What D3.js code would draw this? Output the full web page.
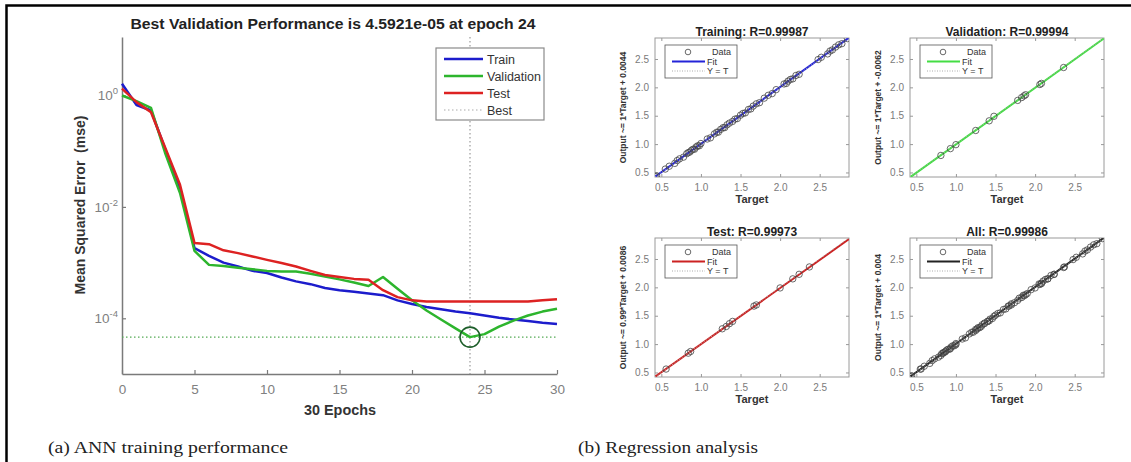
<!DOCTYPE html>
<html>
<head>
<meta charset="utf-8">
<script src="https://cdn.jsdelivr.net/npm/d3@7"></script>
<style>
body { margin: 0; background: #fff; }
svg { display: block; font-family: "Liberation Sans", Arial, sans-serif; }
</style>
</head>
<body>
<svg id="fig" width="1131" height="462"></svg>
<script>
// ---- (a) training performance data, one value per epoch 0..30
var epochs = d3.range(0, 31);
var trainMse = [1.62, 0.676, 0.537, 0.105, 0.0209, 1.82e-3, 1.32e-3, 1.0e-3, 8.5e-4, 7.1e-4, 6.5e-4,
                5.4e-4, 4.6e-4, 4.1e-4, 3.5e-4, 3.2e-4, 3.0e-4, 2.8e-4, 2.6e-4, 2.1e-4, 1.8e-4,
                1.6e-4, 1.45e-4, 1.32e-4, 1.23e-4, 1.12e-4, 1.02e-4, 9.5e-5, 8.9e-5, 8.3e-5, 7.9e-5];
var valMse = [1.0, 0.79, 0.60, 0.089, 0.0178, 1.62e-3, 9.1e-4, 8.7e-4, 8.1e-4, 7.6e-4, 7.1e-4,
              6.9e-4, 6.9e-4, 6.3e-4, 5.6e-4, 5.0e-4, 4.4e-4, 3.8e-4, 5.5e-4, 3.4e-4, 2.1e-4,
              1.38e-4, 9.5e-5, 6.6e-5, 4.5921e-5, 5.2e-5, 7.1e-5, 9.1e-5, 1.12e-4, 1.32e-4, 1.48e-4];
var testMse = [1.33, 0.76, 0.50, 0.112, 0.025, 2.24e-3, 2.14e-3, 1.66e-3, 1.48e-3, 1.29e-3, 1.12e-3,
               9.8e-4, 8.5e-4, 7.1e-4, 6.0e-4, 5.5e-4, 5.1e-4, 4.9e-4, 3.2e-4, 2.4e-4, 2.1e-4,
               2.0e-4, 2.0e-4, 2.0e-4, 2.0e-4, 2.0e-4, 2.0e-4, 2.0e-4, 2.0e-4, 2.1e-4, 2.2e-4];
var bestEpoch = 24;
var bestValue = 4.5921e-5;
var epochTicks = [0, 5, 10, 15, 20, 25, 30];
var mseTicks = [1e0, 1e-2, 1e-4];
var mseTickExp = ["0", "-2", "-4"];
var legendNames = ["Train", "Validation", "Test", "Best"];

// ---- (b) regression data
var trainTarget = [0.42,0.44,0.55,0.60,0.67,0.70,0.73,0.78,0.82,0.84,0.86,0.88,0.90,0.92,0.94,0.96,0.98,1.00,
                   1.08,1.12,1.17,1.20,1.22,1.25,1.28,1.30,1.33,1.36,1.40,1.43,1.46,1.50,1.53,1.56,1.60,1.63,
                   1.66,1.70,1.74,1.80,1.85,1.90,1.95,2.05,2.08,2.10,2.13,2.16,2.20,2.24,2.48,2.52,2.60,2.63,
                   2.66,2.70,2.74,2.78,2.85];
var trainOutput = [0.43,0.44,0.56,0.61,0.66,0.71,0.74,0.77,0.83,0.85,0.86,0.89,0.91,0.91,0.95,0.97,0.97,1.01,
                   1.09,1.11,1.18,1.21,1.21,1.26,1.29,1.29,1.34,1.37,1.40,1.44,1.45,1.51,1.54,1.55,1.61,1.62,
                   1.67,1.71,1.73,1.81,1.86,1.89,1.96,2.06,2.07,2.11,2.14,2.15,2.21,2.23,2.49,2.53,2.59,2.64,
                   2.66,2.71,2.75,2.77,2.86];
var valTarget = [0.81,0.93,1.00,1.25,1.42,1.48,1.78,1.83,1.86,1.88,2.06,2.08,2.36];
var valOutput = [0.80,0.92,0.99,1.24,1.41,1.49,1.77,1.82,1.85,1.87,2.05,2.07,2.35];
var testTarget = [0.56,0.84,0.87,1.27,1.32,1.36,1.40,1.67,1.70,2.00,2.16,2.24,2.37];
var testOutput = [0.56,0.84,0.87,1.27,1.31,1.36,1.40,1.67,1.69,1.99,2.15,2.23,2.36];
var panelNames = ["Training", "Validation", "Test", "All"];
var panelR = ["0.99987", "0.99994", "0.99973", "0.99986"];
var fitSlope = [1, 1, 0.99, 1];
var fitIntercept = [0.0044, -0.0062, 0.0086, 0.004];
var fitLabel = ["1*Target + 0.0044", "1*Target + -0.0062", "0.99*Target + 0.0086", "1*Target + 0.004"];
var regTicks = [0.5, 1, 1.5, 2, 2.5];
var regDomain = [0.42, 2.87];

var lineColors = ["#1c1ccc", "#2db52d", "#dd2222"];
var fitColors = ["#2424d8", "#44dd44", "#cc2222", "#222222"];

var svg = d3.select("#fig");

// page frame (top and left edges)
svg.append("path")
    .attr("d", "M6.5,462V5.5H1131")
    .attr("fill", "none")
    .attr("stroke", "#000")
    .attr("stroke-width", 2.5);

// ================= (a) performance plot =================
var x = d3.scaleLinear().domain([0, 30]).range([122, 557]);
var y = d3.scaleLog().domain([1e-5, Math.pow(10, 1.05)]).range([374, 37]);

var perf = svg.append("g");

var xAxis = perf.append("g")
    .attr("transform", "translate(0,374)")
    .call(d3.axisBottom(x).tickValues(epochTicks).tickSize(-4).tickSizeOuter(0).tickPadding(10));
var yAxis = perf.append("g")
    .attr("transform", "translate(122,0)")
    .call(d3.axisLeft(y).tickValues(mseTicks).tickSize(-4).tickSizeOuter(0).tickFormat(""));
[xAxis, yAxis].forEach(function(a) {
    a.select(".domain").attr("stroke", "#7a7a7a").attr("stroke-width", 1.5);
    a.selectAll(".tick line").attr("stroke", "#7a7a7a").attr("stroke-width", 1.2);
});
xAxis.selectAll(".tick text").attr("fill", "#808080").style("font-size", "13.5px");

// log tick labels 10^n
mseTicks.forEach(function(v, i) {
    var t = perf.append("text")
        .attr("x", 118)
        .attr("y", y(v) + 5)
        .attr("text-anchor", "end")
        .attr("fill", "#808080")
        .style("font-size", "13.5px");
    t.append("tspan").text("10");
    t.append("tspan").attr("dy", -6).style("font-size", "9.5px").text(mseTickExp[i]);
});

// best markers
perf.append("line")
    .attr("x1", x(0)).attr("x2", x(30))
    .attr("y1", y(bestValue)).attr("y2", y(bestValue))
    .attr("stroke", "#55aa55").attr("stroke-width", 1.2).attr("stroke-dasharray", "1.5,2.5");
perf.append("line")
    .attr("x1", x(bestEpoch)).attr("x2", x(bestEpoch))
    .attr("y1", 37).attr("y2", 374)
    .attr("stroke", "#999").attr("stroke-width", 1.2).attr("stroke-dasharray", "1.5,2.5");

var line = d3.line()
    .x(function(d, i) { return x(epochs[i]); })
    .y(function(d) { return y(d); });

[trainMse, valMse, testMse].forEach(function(s, i) {
    perf.append("path")
        .datum(s)
        .attr("fill", "none")
        .attr("stroke", lineColors[i])
        .attr("stroke-width", 2.5)
        .attr("stroke-linejoin", "round")
        .attr("d", line);
});

perf.append("circle")
    .attr("cx", x(bestEpoch))
    .attr("cy", y(bestValue))
    .attr("r", 10)
    .attr("fill", "none")
    .attr("stroke", "#1d5e2a")
    .attr("stroke-width", 1.6);

// title and axis labels
perf.append("text")
    .attr("x", 333).attr("y", 29)
    .attr("text-anchor", "middle")
    .attr("textLength", 405).attr("lengthAdjust", "spacingAndGlyphs")
    .style("font-size", "14px").style("font-weight", "bold")
    .attr("fill", "#222")
    .text("Best Validation Performance is 4.5921e-05 at epoch 24");
perf.append("text")
    .attr("x", 340).attr("y", 415)
    .attr("text-anchor", "middle")
    .attr("textLength", 72).attr("lengthAdjust", "spacingAndGlyphs")
    .style("font-size", "14px").style("font-weight", "bold")
    .attr("fill", "#333")
    .text("30 Epochs");
perf.append("text")
    .attr("transform", "translate(85,205) rotate(-90)")
    .attr("text-anchor", "middle")
    .style("font-size", "14px").style("font-weight", "bold").style("white-space", "pre")
    .attr("fill", "#333")
    .text("Mean Squared Error  (mse)");

// legend
var leg = perf.append("g").attr("transform", "translate(436,48)");
leg.append("rect")
    .attr("width", 108).attr("height", 72)
    .attr("fill", "#fff").attr("stroke", "#8a8a8a").attr("stroke-width", 1.2);
legendNames.forEach(function(name, i) {
    var ly = 11 + i * 17;
    leg.append("line")
        .attr("x1", 8).attr("x2", 47).attr("y1", ly).attr("y2", ly)
        .attr("stroke", i < 3 ? lineColors[i] : "#aaa")
        .attr("stroke-width", i < 3 ? 2.5 : 1.2)
        .attr("stroke-dasharray", i < 3 ? null : "1.5,2.5");
    leg.append("text")
        .attr("x", 51).attr("y", ly + 4.5)
        .style("font-size", "12.5px")
        .attr("fill", "#333")
        .text(name);
});

// ================= (b) regression panels =================
var panelData = [
    { t: trainTarget, o: trainOutput },
    { t: valTarget, o: valOutput },
    { t: testTarget, o: testOutput },
    { t: trainTarget.concat(valTarget, testTarget), o: trainOutput.concat(valOutput, testOutput) }
];
var panelLeft = [655, 910, 655, 910];
var panelTop = [38, 38, 238, 238];
var pw = 194, ph = 139;

panelNames.forEach(function(name, k) {
    var l = panelLeft[k], t = panelTop[k];
    var xs = d3.scaleLinear().domain(regDomain).range([l, l + pw]);
    var ys = d3.scaleLinear().domain(regDomain).range([t + ph, t]);
    var g = svg.append("g");

    g.append("clipPath").attr("id", "clip" + k)
      .append("rect").attr("x", l).attr("y", t).attr("width", pw).attr("height", ph);

    g.append("rect")
        .attr("x", l).attr("y", t).attr("width", pw).attr("height", ph)
        .attr("fill", "#fff").attr("stroke", "#9a9a9a").attr("stroke-width", 1);

    var axB = g.append("g").attr("transform", "translate(0," + (t + ph) + ")")
        .call(d3.axisBottom(xs).tickValues(regTicks).tickSize(-3).tickSizeOuter(0).tickPadding(7));
    var axL = g.append("g").attr("transform", "translate(" + l + ",0)")
        .call(d3.axisLeft(ys).tickValues(regTicks).tickSize(-3).tickSizeOuter(0).tickPadding(6));
    var axT = g.append("g").attr("transform", "translate(0," + t + ")")
        .call(d3.axisTop(xs).tickValues(regTicks).tickSize(-3).tickSizeOuter(0).tickFormat(""));
    var axR = g.append("g").attr("transform", "translate(" + (l + pw) + ",0)")
        .call(d3.axisRight(ys).tickValues(regTicks).tickSize(-3).tickSizeOuter(0).tickFormat(""));
    [axB, axL, axT, axR].forEach(function(a) {
        a.select(".domain").remove();
        a.selectAll(".tick line").attr("stroke", "#999");
        a.selectAll(".tick text").attr("fill", "#7a7a7a").style("font-size", "10px");
    });

    var plot = g.append("g").attr("clip-path", "url(#clip" + k + ")");
    plot.append("line")
        .attr("x1", xs(regDomain[0])).attr("x2", xs(regDomain[1]))
        .attr("y1", ys(fitSlope[k] * regDomain[0] + fitIntercept[k]))
        .attr("y2", ys(fitSlope[k] * regDomain[1] + fitIntercept[k]))
        .attr("stroke", fitColors[k]).attr("stroke-width", 2);
    plot.append("line")
        .attr("x1", xs(regDomain[0])).attr("x2", xs(regDomain[1]))
        .attr("y1", ys(regDomain[0])).attr("y2", ys(regDomain[1]))
        .attr("stroke", "#aaa").attr("stroke-width", 1).attr("stroke-dasharray", "1,2");
    plot.selectAll("circle")
        .data(panelData[k].t)
        .enter().append("circle")
        .attr("cx", function(d) { return xs(d); })
        .attr("cy", function(d, i) { return ys(panelData[k].o[i]); })
        .attr("r", 3.2)
        .attr("fill", "none")
        .attr("stroke", "#444")
        .attr("stroke-width", 0.8);

    g.append("text")
        .attr("x", l + pw / 2).attr("y", t - 2.5)
        .attr("text-anchor", "middle")
        .style("font-size", "12px").style("font-weight", "bold")
        .attr("fill", "#222")
        .text(name + ": R=" + panelR[k]);
    g.append("text")
        .attr("x", l + pw / 2).attr("y", t + ph + 26)
        .attr("text-anchor", "middle")
        .style("font-size", "11px").style("font-weight", "bold")
        .attr("fill", "#333")
        .text("Target");
    g.append("text")
        .attr("transform", "translate(" + (l - 32) + "," + (t + ph / 2) + ") rotate(-90)")
        .attr("text-anchor", "middle")
        .attr("dy", "0.35em")
        .style("font-size", "8.5px").style("font-weight", "bold")
        .attr("fill", "#333")
        .text("Output ~= " + fitLabel[k]);

    // panel legend
    var lg = g.append("g").attr("transform", "translate(" + (l + 10) + "," + (t + 7) + ")");
    lg.append("rect").attr("width", 72).attr("height", 33)
        .attr("fill", "#fff").attr("stroke", "#555").attr("stroke-width", 0.8);
    lg.append("circle").attr("cx", 23).attr("cy", 7).attr("r", 2.8)
        .attr("fill", "none").attr("stroke", "#444").attr("stroke-width", 0.8);
    lg.append("line").attr("x1", 7).attr("x2", 40).attr("y1", 16.5).attr("y2", 16.5)
        .attr("stroke", fitColors[k]).attr("stroke-width", 2);
    lg.append("line").attr("x1", 7).attr("x2", 40).attr("y1", 26).attr("y2", 26)
        .attr("stroke", "#aaa").attr("stroke-width", 1).attr("stroke-dasharray", "1,1.5");
    ["Data", "Fit", "Y = T"].forEach(function(s, i) {
        lg.append("text")
            .attr("x", i === 0 ? 47 : 42).attr("y", 10 + i * 9.5)
            .style("font-size", "9px")
            .attr("fill", "#333")
            .text(s);
    });
});

// captions
svg.append("text")
    .attr("x", 48).attr("y", 453)
    .attr("textLength", 240).attr("lengthAdjust", "spacingAndGlyphs")
    .style("font-family", "'Liberation Serif', 'Times New Roman', serif")
    .style("font-size", "16px")
    .attr("fill", "#222")
    .text("(a) ANN training performance");
svg.append("text")
    .attr("x", 578).attr("y", 453)
    .attr("textLength", 180).attr("lengthAdjust", "spacingAndGlyphs")
    .style("font-family", "'Liberation Serif', 'Times New Roman', serif")
    .style("font-size", "16px")
    .attr("fill", "#222")
    .text("(b) Regression analysis");
</script>
</body>
</html>
